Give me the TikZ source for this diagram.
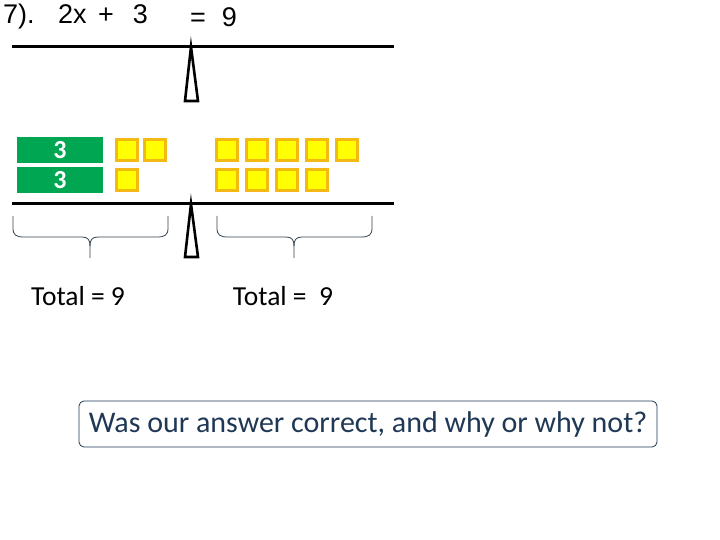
\documentclass[tikz,border=0pt]{standalone}
\usepackage{fontspec}
\setmainfont{Carlito}
\newfontfamily\arialfont{Liberation Sans}
\definecolor{tilegreen}{RGB}{0,166,81}
\definecolor{tileyellow}{RGB}{255,255,0}
\definecolor{tileedge}{RGB}{245,185,20}
\definecolor{slate}{RGB}{31,56,86}
\definecolor{bracecol}{RGB}{50,66,80}
\tikzset{
  beam/.style={line width=3pt},
  fulcrum/.style={line width=2.6pt, line join=miter},
  bar/.style={fill=tilegreen, minimum width=86pt, minimum height=26pt, inner sep=0pt, text=white, font=\fontsize{26}{26}\selectfont\bfseries},
  unit/.style={fill=tileyellow, draw=tileedge, line width=2.6pt, minimum size=21.5pt, inner sep=0pt},
  curly/.style={draw=bracecol, line width=0.8pt},
  total/.style={font=\fontsize{27.5}{27.5}\selectfont, inner sep=0pt},
  eqtext/.style={anchor=west, inner sep=0pt, font=\arialfont\fontsize{27}{27}\selectfont}
}
\begin{document}
\begin{tikzpicture}[x=1pt, y=-1pt]
  \useasboundingbox (0,0) rectangle (720,540);
  % equation
  \node at (3,17) [eqtext] (eql) {7).\hspace{23.5pt}2x\hspace{11.5pt}+\hspace{19pt}3};
  \node at (190,17) [eqtext] (eqr) {=\hspace{16pt}9};
  % top balance
  \draw[beam] (12,47) -- (394,47);
  \draw[fulcrum] (191,47) -- (198,101) -- (185,101) -- cycle;
  % tiles
  \node at (60,150) [bar] (g1) {3};
  \node at (60,180) [bar] (g2) {3};
  \foreach \x/\y in {127/150, 155/150, 127/180} {
    \node at (\x,\y) [unit] {};
  }
  \foreach \x in {227,257,287,317,347} {
    \node at (\x,150) [unit] {};
  }
  \foreach \x in {227,257,287,317} {
    \node at (\x,180) [unit] {};
  }
  % bottom balance
  \draw[beam] (12,204) -- (394,204);
  \draw[fulcrum] (191,204) -- (198,257) -- (185,257) -- cycle;
  % braces
  \draw[curly] (13,216) -- (13,228) .. controls (13,235) and (16,237) .. (24,237) -- (82,237)
    .. controls (88,237) and (90,240) .. (90,246) -- (90,258);
  \draw[curly] (168,216) -- (168,228) .. controls (168,235) and (165,237) .. (157,237) -- (98,237)
    .. controls (92,237) and (90,240) .. (90,246);
  \draw[curly] (217,216) -- (217,228) .. controls (217,235) and (220,237) .. (228,237) -- (286,237)
    .. controls (292,237) and (294,240) .. (294,246) -- (294,258);
  \draw[curly] (372,216) -- (372,228) .. controls (372,235) and (369,237) .. (361,237) -- (302,237)
    .. controls (296,237) and (294,240) .. (294,246);
  % totals
  \node at (78,296) [total] (tl) {Total = 9};
  \node at (283,296) [total] (tr) {Total =\ \ 9};
  % question
  \node at (368,424) [draw=slate, rounded corners=5pt, line width=0.8pt, text=slate, minimum width=578pt, minimum height=46pt, inner sep=0pt, font=\fontsize{30}{30}\selectfont] (q) {Was our answer correct, and why or why not?};
\end{tikzpicture}
\end{document}
